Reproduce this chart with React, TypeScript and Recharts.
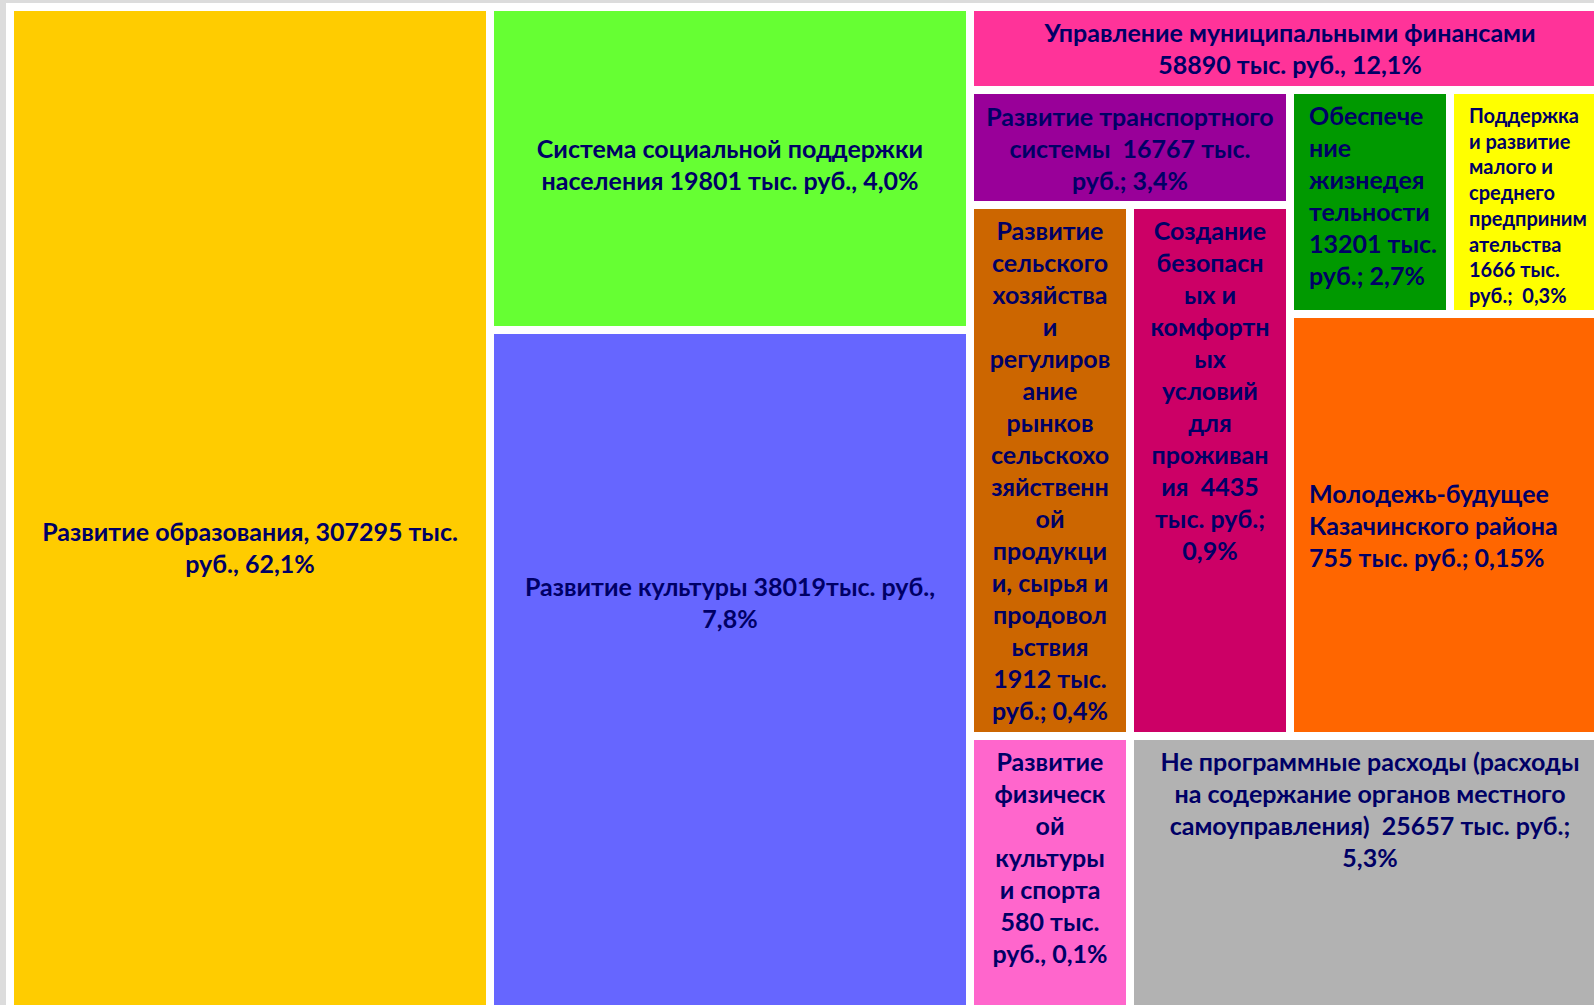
import { Treemap } from 'recharts';

// programmes of the district budget, in reading order
const programs = [
  'Развитие образования',
  'Система социальной поддержки населения',
  'Развитие культуры',
  'Управление муниципальными финансами',
  'Развитие транспортного системы',
  'Обеспечение жизнедеятельности',
  'Поддержка и развитие малого и среднего предпринимательства',
  'Развитие сельского хозяйства и регулирование рынков сельскохозяйственной продукции, сырья и продовольствия',
  'Создание безопасных и комфортных условий для проживания',
  'Молодежь-будущее Казачинского района',
  'Развитие физической культуры и спорта',
  'Не программные расходы (расходы на содержание органов местного самоуправления)',
];

// тыс. руб.
const amounts = [307295, 19801, 38019, 58890, 16767, 13201, 1666, 1912, 4435, 755, 580, 25657];
const percents = ['62,1%', '4,0%', '7,8%', '12,1%', '3,4%', '2,7%', '0,3%', '0,4%', '0,9%', '0,15%', '0,1%', '5,3%'];

// share of the picture each tile covers, % (tiles are not drawn to scale of the amounts)
const tileShare = [30.0, 8.81, 21.19, 3.02, 2.09, 2.04, 2.04, 4.83, 4.83, 7.67, 3.37, 10.12];

const labelLines = [
  ['Развитие образования, 307295 тыс.', 'руб., 62,1%'],
  ['Система социальной поддержки', 'населения 19801 тыс. руб., 4,0%'],
  ['Развитие культуры 38019тыс. руб.,', '7,8%'],
  ['Управление муниципальными финансами', '58890 тыс. руб., 12,1%'],
  ['Развитие транспортного', 'системы  16767 тыс.', 'руб.; 3,4%'],
  ['Обеспече', 'ние', 'жизнедея', 'тельности', '13201 тыс.', 'руб.; 2,7%'],
  ['Поддержка', 'и развитие', 'малого и', 'среднего', 'предприним', 'ательства', '1666 тыс.', 'руб.;  0,3%'],
  ['Развитие', 'сельского', 'хозяйства', 'и', 'регулиров', 'ание', 'рынков', 'сельскохо', 'зяйственн', 'ой',
    'продукци', 'и, сырья и', 'продовол', 'ьствия', '1912 тыс.', 'руб.; 0,4%'],
  ['Создание', 'безопасн', 'ых и', 'комфортн', 'ых', 'условий', 'для', 'проживан', 'ия  4435', 'тыс. руб.;', '0,9%'],
  ['Молодежь-будущее', 'Казачинского района', '755 тыс. руб.; 0,15%'],
  ['Развитие', 'физическ', 'ой', 'культуры', 'и спорта', '580 тыс.', 'руб., 0,1%'],
  ['Не программные расходы (расходы', 'на содержание органов местного', 'самоуправления)  25657 тыс. руб.;', '5,3%'],
];

const COLORS = [
  '#FFCC00', '#66FF33', '#6666FF', '#FF3399', '#990099', '#009900',
  '#FFFF00', '#CC6600', '#CC0066', '#FF6600', '#FF66CC', '#B2B2B2',
];

type LabelStyle = { anchor: 'middle' | 'start'; valign: 'center' | 'top'; dy?: number; fontSize?: number; lineHeight?: number };

const LABEL_STYLE: LabelStyle[] = [
  { anchor: 'middle', valign: 'center', dy: -10 },
  { anchor: 'middle', valign: 'center', dy: -5 },
  { anchor: 'middle', valign: 'center', dy: -117 },
  { anchor: 'middle', valign: 'center', dy: -1 },
  { anchor: 'middle', valign: 'center', dy: 0 },
  { anchor: 'start', valign: 'top' },
  { anchor: 'start', valign: 'top', fontSize: 20, lineHeight: 25.7 },
  { anchor: 'middle', valign: 'top' },
  { anchor: 'middle', valign: 'top' },
  { anchor: 'start', valign: 'center', dy: 0 },
  { anchor: 'middle', valign: 'top' },
  { anchor: 'middle', valign: 'top' },
];

const leaf = (i: number) => ({
  name: programs[i],
  size: tileShare[i],
  amount: amounts[i],
  percent: percents[i],
  idx: i,
});
const group = (name: string, ...children: any[]) => ({ name, children });

const treeData = [
  group('ab', leaf(0), group('social', leaf(1), leaf(2))),
  group('c', leaf(3), group('lower',
    group('middle',
      group('left', leaf(4), group('agro', leaf(7), leaf(8))),
      group('right', leaf(5), leaf(6), leaf(9))),
    group('bottom', leaf(10), leaf(11)))),
];

const GAP = 4;

function renderTile(props: any) {
  const { x, y, width, height, children, idx } = props;
  if ((children && children.length) || idx === undefined) return <g />;
  const rx = x + GAP;
  const ry = y + GAP;
  const rw = width - 2 * GAP;
  const rh = height - 2 * GAP;
  const st = LABEL_STYLE[idx];
  const lines = labelLines[idx];
  const fs = st.fontSize ?? 25;
  const lh = st.lineHeight ?? 32;
  const tx = st.anchor === 'start' ? rx + 15 : rx + rw / 2;
  const first =
    st.valign === 'top' ? ry + 21 : ry + rh / 2 - ((lines.length - 1) * lh) / 2 + (st.dy ?? 0);
  return (
    <g>
      <rect x={rx} y={ry} width={rw} height={rh} fill={COLORS[idx]} />
      <text
        textAnchor={st.anchor}
        fontFamily="Lato, 'Open Sans', sans-serif"
        fontWeight={700}
        fontSize={fs}
        fill="#000066"
        style={{ whiteSpace: 'pre' }}
      >
        {lines.map((line, i) => (
          <tspan key={i} x={tx} y={first + i * lh} dominantBaseline="central">
            {line}
          </tspan>
        ))}
      </text>
    </g>
  );
}

export default function App() {
  return (
    <div
      style={{
        position: 'fixed',
        left: 0,
        top: 0,
        width: 1594,
        height: 1005,
        background: '#DCDCDC',
        overflow: 'hidden',
      }}
    >
      <div
        style={{
          position: 'absolute',
          left: 6,
          top: 3,
          width: 1620,
          height: 1120,
          background: '#FFFFFF',
          padding: GAP,
          boxSizing: 'border-box',
        }}
      >
        <Treemap
          width={1600}
          height={1100}
          data={treeData}
          dataKey="size"
          aspectRatio={1.69}
          isAnimationActive={false}
          content={renderTile}
        />
      </div>
    </div>
  );
}
